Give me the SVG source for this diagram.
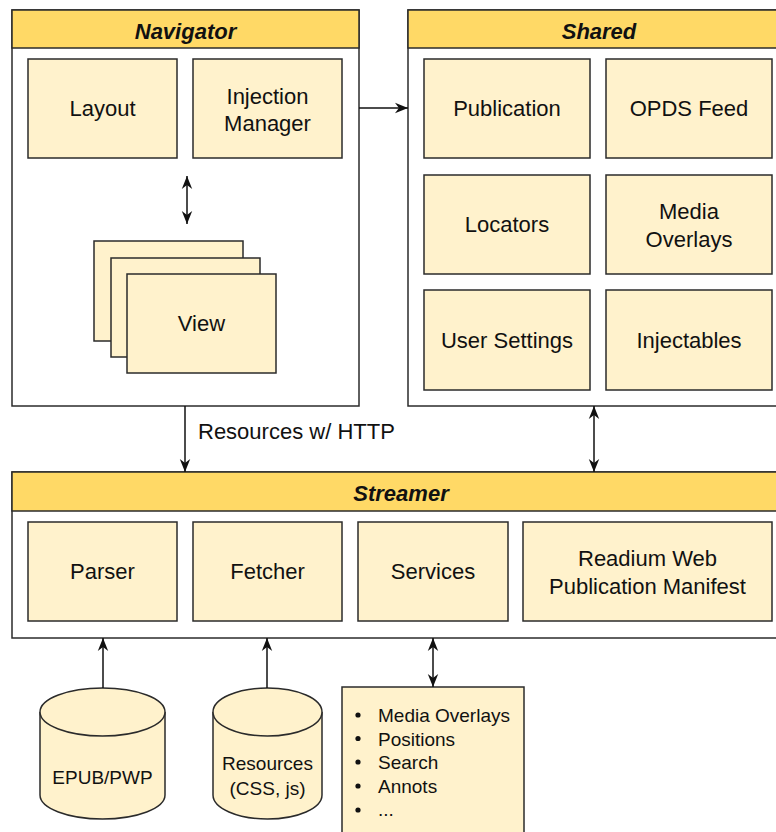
<svg xmlns="http://www.w3.org/2000/svg" width="776" height="832" viewBox="0 0 776 832">
<style>
  .frame { fill: #ffffff; stroke: #2b2b2b; stroke-width: 1.5; }
  .hdr { fill: #ffd966; stroke: #2b2b2b; stroke-width: 1.5; }
  .box { fill: #fff2cc; stroke: #2b2b2b; stroke-width: 1.5; }
  .cyl { fill: #fff2cc; stroke: #2b2b2b; stroke-width: 1.5; }
  .title { font-family: "Liberation Sans", Arial, sans-serif; font-size: 22px; font-weight: bold; font-style: italic; fill: #111; text-anchor: middle; }
  .lbl { font-family: "Liberation Sans", Arial, sans-serif; font-size: 22px; fill: #111; text-anchor: middle; }
  .sm { font-family: "Liberation Sans", Arial, sans-serif; font-size: 19px; fill: #111; }
  .smc { font-family: "Liberation Sans", Arial, sans-serif; font-size: 19px; fill: #111; text-anchor: middle; }
  .edge { fill: none; stroke: #111; stroke-width: 1.5; }
</style>
<defs>
  <marker id="arr" viewBox="0 0 10 10" refX="10" refY="5" markerWidth="13" markerHeight="13" markerUnits="userSpaceOnUse" orient="auto-start-reverse">
    <path d="M0,1 L10,5 L0,9 L3,5 z" fill="#111"/>
  </marker>
</defs>
<rect width="776" height="832" fill="#ffffff"/>

<g id="navigator">
  <rect class="frame" x="12" y="10" width="347" height="396"/>
  <rect class="hdr" x="12" y="10" width="347" height="38"/>
  <text class="title" x="185.5" y="39">Navigator</text>
</g>
<g id="layout">
  <rect class="box" x="28" y="59" width="149" height="99"/>
  <text class="lbl" x="102.5" y="116">Layout</text>
</g>
<g id="injection-manager">
  <rect class="box" x="193" y="59" width="149" height="99"/>
  <text class="lbl" x="267.5" y="104">Injection</text>
  <text class="lbl" x="267.5" y="131">Manager</text>
</g>
<g id="view">
  <rect class="box" x="94" y="241" width="149" height="100"/>
  <rect class="box" x="111" y="258" width="149" height="99"/>
  <rect class="box" x="127" y="274" width="149" height="99"/>
  <text class="lbl" x="201.5" y="331">View</text>
</g>

<g id="shared">
  <rect class="frame" x="408" y="10" width="382" height="396"/>
  <rect class="hdr" x="408" y="10" width="382" height="38"/>
  <text class="title" x="599" y="39">Shared</text>
</g>
<g id="publication">
  <rect class="box" x="424" y="59" width="166" height="99"/>
  <text class="lbl" x="507" y="116">Publication</text>
</g>
<g id="opds-feed">
  <rect class="box" x="606" y="59" width="166" height="99"/>
  <text class="lbl" x="689" y="116">OPDS Feed</text>
</g>
<g id="locators">
  <rect class="box" x="424" y="175" width="166" height="99"/>
  <text class="lbl" x="507" y="232">Locators</text>
</g>
<g id="media-overlays">
  <rect class="box" x="606" y="175" width="166" height="99"/>
  <text class="lbl" x="689" y="219">Media</text>
  <text class="lbl" x="689" y="247">Overlays</text>
</g>
<g id="user-settings">
  <rect class="box" x="424" y="290" width="166" height="100"/>
  <text class="lbl" x="507" y="348">User Settings</text>
</g>
<g id="injectables">
  <rect class="box" x="606" y="290" width="166" height="100"/>
  <text class="lbl" x="689" y="348">Injectables</text>
</g>

<g id="streamer">
  <rect class="frame" x="12" y="472" width="778" height="166"/>
  <rect class="hdr" x="12" y="472" width="778" height="39"/>
  <text class="title" x="401" y="501">Streamer</text>
</g>
<g id="parser">
  <rect class="box" x="28" y="522" width="149" height="99"/>
  <text class="lbl" x="102.5" y="579">Parser</text>
</g>
<g id="fetcher">
  <rect class="box" x="193" y="522" width="149" height="99"/>
  <text class="lbl" x="267.5" y="579">Fetcher</text>
</g>
<g id="services">
  <rect class="box" x="358" y="522" width="150" height="99"/>
  <text class="lbl" x="433" y="579">Services</text>
</g>
<g id="rwpm">
  <rect class="box" x="523" y="522" width="249" height="99"/>
  <text class="lbl" x="647.5" y="566">Readium Web</text>
  <text class="lbl" x="647.5" y="594">Publication Manifest</text>
</g>

<g id="epub-pwp">
  <path class="cyl" d="M40,712 A62.5,24 0 0 1 165,712 V795 A62.5,24 0 0 1 40,795 Z"/>
  <path class="cyl" d="M40,712 A62.5,24 0 0 0 165,712" fill="none"/>
  <text class="smc" x="102.5" y="784">EPUB/PWP</text>
</g>
<g id="resources">
  <path class="cyl" d="M213,712 A54.5,24 0 0 1 322,712 V795 A54.5,24 0 0 1 213,795 Z"/>
  <path class="cyl" d="M213,712 A54.5,24 0 0 0 322,712" fill="none"/>
  <text class="smc" x="267.5" y="770">Resources</text>
  <text class="smc" x="267.5" y="795">(CSS, js)</text>
</g>
<g id="services-list">
  <rect class="box" x="342" y="687" width="182" height="160"/>
  <circle cx="358" cy="715" r="2.6" fill="#111"/>
  <circle cx="358" cy="738.5" r="2.6" fill="#111"/>
  <circle cx="358" cy="762" r="2.6" fill="#111"/>
  <circle cx="358" cy="786" r="2.6" fill="#111"/>
  <circle cx="358" cy="810" r="2.6" fill="#111"/>
  <text class="sm" x="378" y="722">Media Overlays</text>
  <text class="sm" x="378" y="745.5">Positions</text>
  <text class="sm" x="378" y="769">Search</text>
  <text class="sm" x="378" y="792.5">Annots</text>
  <text class="sm" x="378" y="816">...</text>
</g>

<g id="connectors">
  <line class="edge" x1="359" y1="108" x2="408" y2="108" marker-end="url(#arr)"/>
  <line class="edge" x1="187" y1="176" x2="187" y2="224" marker-start="url(#arr)" marker-end="url(#arr)"/>
  <line class="edge" x1="185" y1="406" x2="185" y2="472" marker-end="url(#arr)"/>
  <text class="lbl" x="198" y="439" style="text-anchor:start">Resources w/ HTTP</text>
  <line class="edge" x1="594" y1="406" x2="594" y2="472" marker-start="url(#arr)" marker-end="url(#arr)"/>
  <line class="edge" x1="433" y1="638" x2="433" y2="687" marker-start="url(#arr)" marker-end="url(#arr)"/>
  <line class="edge" x1="103" y1="688" x2="103" y2="638" marker-end="url(#arr)"/>
  <line class="edge" x1="267" y1="688" x2="267" y2="638" marker-end="url(#arr)"/>
</g>
</svg>
